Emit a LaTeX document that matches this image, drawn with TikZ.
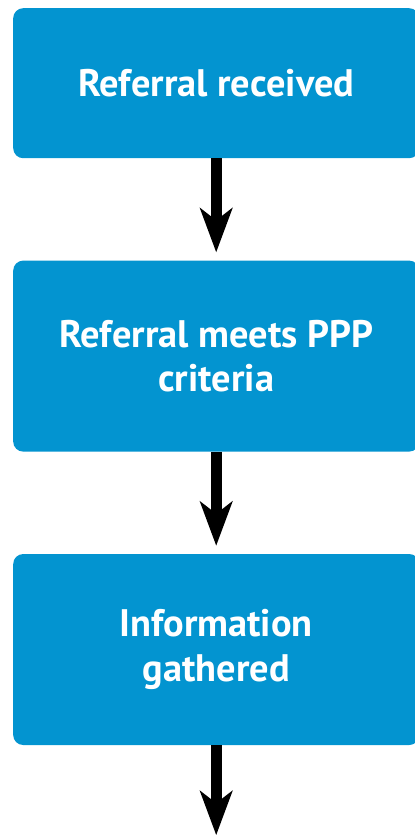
\documentclass[tikz,border=0pt]{standalone}
\usepackage{fontspec}
\setsansfont{PT Sans}
\usetikzlibrary{arrows.meta,positioning}
\definecolor{flowblue}{HTML}{0394D0}

\begin{document}
\begin{tikzpicture}[x=1bp, y=1bp,
  stage/.style={rectangle, rounded corners=10bp, fill=flowblue, text=white,
                minimum width=406bp, align=center, inner sep=0pt,
                font=\sffamily\bfseries\fontsize{38.5}{45}\selectfont},
  arr/.style={-{Stealth[length=44bp, width=32bp, inset=12bp]},
              line width=11bp, draw=black, shorten >=8bp},
  node distance=102bp
]
  \useasboundingbox (0,0) rectangle (414,-835);
  \node[stage, minimum height=150bp, anchor=north west] (rec) at (13,-8) {Referral received};
  \node[stage, minimum height=191bp, below=of rec]   (meets) {Referral meets PPP\\criteria};
  \node[stage, minimum height=191bp, below=of meets] (info)  {Information\\gathered};
  \coordinate[below=98bp of info] (next);
  \draw[arr] (rec)   -- (meets);
  \draw[arr] (meets) -- (info);
  \draw[arr] (info)  -- (next);
\end{tikzpicture}
\end{document}
